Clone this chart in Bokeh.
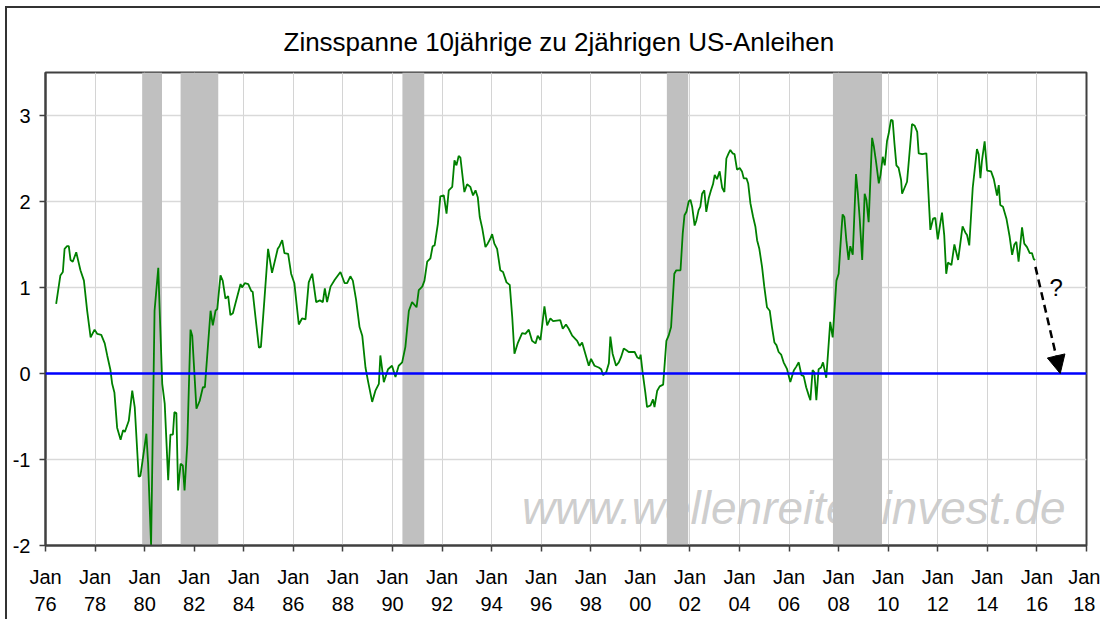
from bokeh.plotting import figure
from bokeh.models import Range1d, FixedTicker, Span, Arrow, NormalHead, Label
from bokeh.embed import file_html
from bokeh.resources import INLINE

title_text = "Zinsspanne 10jährige zu 2jährigen US-Anleihen"
watermark = "www.wellenreiter-invest.de"

x_tick_years = [1976, 1978, 1980, 1982, 1984, 1986, 1988, 1990, 1992, 1994, 1996,
                1998, 2000, 2002, 2004, 2006, 2008, 2010, 2012, 2014, 2016, 2018]
x_tick_labels = ["Jan\n76", "Jan\n78", "Jan\n80", "Jan\n82", "Jan\n84", "Jan\n86",
                 "Jan\n88", "Jan\n90", "Jan\n92", "Jan\n94", "Jan\n96", "Jan\n98",
                 "Jan\n00", "Jan\n02", "Jan\n04", "Jan\n06", "Jan\n08", "Jan\n10",
                 "Jan\n12", "Jan\n14", "Jan\n16", "Jan\n18"]
y_ticks = [-2, -1, 0, 1, 2, 3]
y_tick_labels = ["-2", "-1", "0", "1", "2", "3"]

# recessions (shaded)
rec_start = [1979.9, 1981.45, 1990.4, 2001.07, 2007.77]
rec_end = [1980.7, 1982.97, 1991.28, 2001.93, 2009.75]

# spread 10y - 2y
t = [
    1976.43, 1976.60, 1976.70, 1976.77, 1976.87, 1976.94, 1977.01, 1977.10, 1977.24, 1977.41,
    1977.55, 1977.68, 1977.82, 1977.98, 1978.09, 1978.25, 1978.39, 1978.49, 1978.62, 1978.69,
    1978.78, 1978.89, 1979.03, 1979.13, 1979.20, 1979.36, 1979.50, 1979.60, 1979.76, 1979.83,
    1980.07, 1980.14, 1980.26, 1980.40, 1980.55, 1980.60, 1980.71, 1980.81, 1980.95, 1981.04,
    1981.14, 1981.20, 1981.28, 1981.35, 1981.45, 1981.54, 1981.61, 1981.72, 1981.85, 1981.92,
    1982.09, 1982.22, 1982.35, 1982.43, 1982.66, 1982.75, 1982.86, 1982.93, 1983.06, 1983.15,
    1983.26, 1983.37, 1983.46,
    1983.56, 1983.66, 1983.87, 1983.93, 1984.04, 1984.18, 1984.30, 1984.36, 1984.47, 1984.61,
    1984.69, 1984.83, 1984.98, 1985.14, 1985.37, 1985.44, 1985.55, 1985.64, 1985.79, 1985.91,
    1986.04, 1986.22, 1986.35, 1986.49, 1986.62, 1986.76, 1986.92, 1987.07, 1987.19, 1987.27,
    1987.36, 1987.50, 1987.67, 1987.90, 1988.07, 1988.17, 1988.30, 1988.40, 1988.53, 1988.67,
    1988.78, 1988.91, 1989.02, 1989.18, 1989.31, 1989.45, 1989.51, 1989.65, 1989.82, 1989.98,
    1990.12, 1990.25, 1990.39, 1990.52, 1990.66, 1990.79, 1990.97, 1991.06, 1991.20, 1991.29,
    1991.40, 1991.53, 1991.62, 1991.70, 1991.83, 1991.93, 1992.07, 1992.18, 1992.27, 1992.41,
    1992.50, 1992.58, 1992.67, 1992.74, 1992.90, 1993.01, 1993.14, 1993.25, 1993.35, 1993.44,
    1993.52, 1993.62, 1993.75, 1993.84, 1993.95, 1994.02, 1994.11, 1994.22, 1994.35, 1994.46,
    1994.60, 1994.73, 1994.83, 1994.92, 1995.05, 1995.23, 1995.36, 1995.50, 1995.63, 1995.77,
    1995.86, 1995.97, 1996.13, 1996.24, 1996.37, 1996.48, 1996.77, 1996.87, 1997.00, 1997.11,
    1997.25, 1997.45, 1997.55, 1997.65, 1997.78, 1997.92, 1998.01, 1998.15, 1998.32, 1998.42,
    1998.50, 1998.63, 1998.73, 1998.79, 1998.88, 1999.02, 1999.13, 1999.22, 1999.33, 1999.44,
    1999.53, 1999.77, 1999.87, 1999.97, 2000.01, 2000.09, 2000.20, 2000.27, 2000.41, 2000.51,
    2000.57, 2000.68, 2000.78, 2000.92,
    2001.05, 2001.14, 2001.24, 2001.37, 2001.45, 2001.62, 2001.71, 2001.78, 2001.86, 2001.95,
    2002.02, 2002.09, 2002.19, 2002.26, 2002.35, 2002.42, 2002.49, 2002.58, 2002.66, 2002.76,
    2002.85, 2002.93, 2003.00, 2003.09, 2003.20, 2003.30, 2003.39, 2003.47, 2003.56, 2003.63,
    2003.72, 2003.80, 2003.90, 2004.01, 2004.10, 2004.17, 2004.28, 2004.35, 2004.44, 2004.55,
    2004.64, 2004.71, 2004.80, 2004.91, 2005.00, 2005.11, 2005.22, 2005.31, 2005.41, 2005.49,
    2005.58, 2005.68, 2005.78, 2005.92, 2006.05, 2006.19, 2006.29, 2006.39, 2006.50, 2006.59,
    2006.69, 2006.80, 2006.86, 2006.95, 2007.02, 2007.10, 2007.19, 2007.29, 2007.37, 2007.50,
    2007.57, 2007.66, 2007.76, 2007.91, 2008.00, 2008.11, 2008.16, 2008.23, 2008.31, 2008.40,
    2008.47, 2008.57, 2008.70, 2008.77, 2008.85, 2008.95, 2009.05, 2009.12, 2009.21, 2009.35,
    2009.42, 2009.51, 2009.62, 2009.69, 2009.78, 2009.86, 2009.95, 2010.02, 2010.11, 2010.18,
    2010.25, 2010.33, 2010.42, 2010.52,
    2010.56, 2010.76, 2010.96, 2011.07, 2011.17, 2011.23, 2011.37, 2011.54, 2011.70, 2011.81,
    2011.90, 2012.00, 2012.17, 2012.26, 2012.34, 2012.41, 2012.55, 2012.67, 2012.82, 2013.00,
    2013.11, 2013.18, 2013.27, 2013.41, 2013.58, 2013.65, 2013.72, 2013.78, 2013.89, 2013.99,
    2014.15, 2014.26, 2014.39, 2014.46, 2014.52, 2014.63, 2014.77, 2014.90, 2015.00, 2015.09,
    2015.17, 2015.26, 2015.40, 2015.49, 2015.60, 2015.71, 2015.80, 2015.87, 2015.93,
]
spread = [
    0.81, 1.14, 1.18, 1.45, 1.48, 1.48, 1.32, 1.30, 1.41, 1.20,
    1.08, 0.73, 0.42, 0.51, 0.46, 0.45, 0.35, 0.21, 0.04, -0.12,
    -0.22, -0.63, -0.77, -0.66, -0.68, -0.55, -0.20, -0.39, -1.20, -1.19,
    -0.70, -1.05, -2.00, 0.73, 1.23, 0.79, -0.12, -0.35, -1.24, -0.71,
    -0.71, -0.45, -0.46, -1.36, -1.05, -1.07, -1.36, -0.82, 0.51, 0.44,
    -0.41, -0.32, -0.16, -0.16, 0.73, 0.56, 0.73, 0.75, 1.14, 1.08,
    0.87, 0.90, 0.68,
    0.70, 0.81, 1.04, 1.00, 1.05, 1.04, 0.96, 0.95, 0.66, 0.30,
    0.31, 0.85, 1.45, 1.17, 1.45, 1.48, 1.55, 1.40, 1.39, 1.16,
    1.05, 0.57, 0.64, 0.63, 1.06, 1.16, 0.83, 0.85, 0.83, 0.99,
    0.83, 1.01, 1.09, 1.18, 1.05, 1.05, 1.13, 1.08, 0.86, 0.54,
    0.44, 0.07, -0.10, -0.33, -0.20, -0.12, 0.21, -0.10, 0.05, 0.09,
    -0.04, 0.09, 0.13, 0.31, 0.73, 0.83, 0.77, 0.97, 1.01, 1.08,
    1.30, 1.34, 1.48, 1.49, 1.74, 2.06, 2.07, 1.86, 2.13, 2.17,
    2.48, 2.42, 2.53, 2.51, 2.11, 2.20, 2.17, 2.07, 2.13, 2.05,
    1.82, 1.69, 1.47, 1.51, 1.57, 1.62, 1.51, 1.45, 1.20, 1.18,
    1.06, 1.03, 0.66, 0.23, 0.35, 0.47, 0.46, 0.51, 0.38, 0.35,
    0.44, 0.39, 0.78, 0.56, 0.64, 0.61, 0.62, 0.52, 0.57, 0.52,
    0.44, 0.38, 0.32, 0.36, 0.23, 0.09, 0.17, 0.09, 0.07, 0.05,
    -0.02, 0.02, 0.12, 0.43, 0.23, 0.09, 0.13, 0.19, 0.29, 0.27,
    0.25, 0.25, 0.19, 0.17, 0.22, 0.015, -0.22, -0.39, -0.37, -0.30,
    -0.39, -0.20, -0.15, -0.13,
    0.38, 0.44, 0.54, 1.16, 1.20, 1.20, 1.63, 1.84, 1.88, 2.00,
    2.02, 1.94, 1.72, 1.78, 1.90, 1.94, 2.09, 2.13, 1.88, 2.04,
    2.13, 2.20, 2.31, 2.26, 2.35, 2.16, 2.11, 2.50, 2.56, 2.60,
    2.56, 2.55, 2.37, 2.39, 2.35, 2.27, 2.27, 2.21, 1.98, 1.82,
    1.71, 1.55, 1.45, 1.24, 1.01, 0.77, 0.73, 0.54, 0.36, 0.33,
    0.25, 0.22, 0.13, 0.05, -0.10, 0.035, 0.08, 0.13, -0.02, -0.03,
    -0.16, -0.26, -0.31, 0.04, 0.015, -0.31, 0.05, 0.07, 0.13, -0.05,
    0.23, 0.60, 0.42, 1.08, 1.16, 1.65, 1.85, 1.82, 1.55, 1.32,
    1.48, 1.38, 2.32, 2.11, 1.80, 1.32, 2.09, 2.02, 1.76, 2.74,
    2.64, 2.46, 2.21, 2.31, 2.52, 2.42, 2.70, 2.79, 2.95, 2.94,
    2.68, 2.42, 2.39, 2.25,
    2.09, 2.23, 2.90, 2.88, 2.81, 2.56, 2.55, 2.56, 1.67, 1.80,
    1.81, 1.56, 1.87, 1.61, 1.16, 1.29, 1.26, 1.50, 1.32, 1.71,
    1.64, 1.61, 1.49, 2.16, 2.61, 2.55, 2.27, 2.47, 2.70, 2.36,
    2.35, 2.26, 2.07, 2.19, 1.96, 1.94, 1.80, 1.59, 1.38, 1.50,
    1.53, 1.30, 1.70, 1.51, 1.47, 1.40, 1.40, 1.33, 1.32,
]

# forecast arrow
arrow_from = (2015.94, 1.24)
arrow_to = (2016.94, 0.0)

FONT = "Liberation Sans"
DARK = "#404040"

p = figure(title=title_text, width=1095, height=613, output_backend="svg",
           toolbar_location=None,
           x_range=Range1d(1976, 2018), y_range=Range1d(-2, 3.5),
           min_border_left=38, min_border_right=16, min_border_top=61,
           min_border_bottom=76, background_fill_color="white",
           border_fill_color="white")
p.styles = {"margin-left": "5px", "margin-top": "6px",
            "border-left": "2px solid #333333", "border-top": "2px solid #333333"}

p.title.align = "left"
p.title.offset = 238
p.title.text_font = FONT
p.title.text_font_size = "26px"
p.title.text_font_style = "normal"
p.title.text_color = "black"
p.title.standoff = 32

p.outline_line_color = DARK
p.outline_line_width = 2

p.xaxis.ticker = FixedTicker(ticks=x_tick_years)
p.xaxis.major_label_overrides = {y: lab for y, lab in zip(x_tick_years, x_tick_labels)}
p.yaxis.ticker = FixedTicker(ticks=y_ticks)
p.yaxis.major_label_overrides = {y: lab for y, lab in zip(y_ticks, y_tick_labels)}
for ax in (p.xaxis, p.yaxis):
    ax.axis_line_color = DARK
    ax.axis_line_width = 2
    ax.major_tick_line_color = DARK
    ax.major_tick_line_width = 1.5
    ax.major_tick_out = 6
    ax.major_tick_in = 0
    ax.minor_tick_out = 0
    ax.minor_tick_in = 0
    ax.major_label_text_font = FONT
    ax.major_label_text_font_size = "20px"
    ax.major_label_text_color = "black"
p.xaxis.major_label_text_line_height = 1.27
p.xaxis.major_label_standoff = 14
p.yaxis.major_label_standoff = 9

p.xgrid.ticker = FixedTicker(ticks=x_tick_years)
p.ygrid.ticker = FixedTicker(ticks=y_ticks)
p.xgrid.grid_line_color = "#d4d4d4"
p.xgrid.grid_line_width = 1
p.ygrid.grid_line_color = "#d9d9d9"
p.ygrid.grid_line_width = 1.5

wm = Label(x=1995.22, y=-1.56, text=watermark, text_font=FONT, text_font_size="46px",
           text_font_style="italic", text_color="#c8c8c8", text_alpha=0.9,
           text_baseline="alphabetic", level="underlay")
p.add_layout(wm)

p.quad(left=rec_start, right=rec_end, bottom=-2, top=3.5, fill_color="#c0c0c0",
       line_color=None)

p.line(t, spread, line_color="#008000", line_width=1.8)

p.add_layout(Span(location=0, dimension="width", line_color="#0000ff", line_width=2.5))

p.add_layout(Arrow(x_start=arrow_from[0], y_start=arrow_from[1], x_end=arrow_to[0],
                   y_end=arrow_to[1], line_color="black", line_width=2.5,
                   line_dash="8 5",
                   end=NormalHead(size=18, fill_color="black", line_color="black")))
p.add_layout(Label(x=2016.78, y=1.0, text="?", text_font=FONT, text_font_size="24px",
                   text_color="black", text_align="center", text_baseline="middle"))

open("out.html", "w").write(file_html(p, INLINE))
